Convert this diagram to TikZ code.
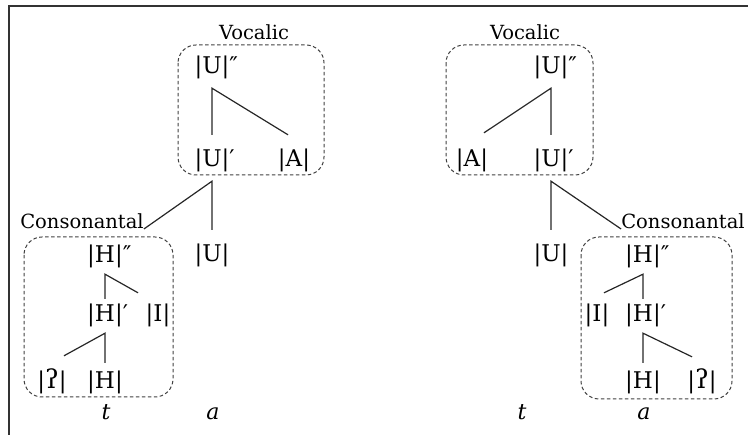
\documentclass[tikz,border=0pt]{standalone}
\usepackage{fontspec}
\setmainfont{DejaVu Serif}
\newcommand{\gst}{{\fontsize{26}{26}\selectfont ʔ}}
\newcommand{\dpr}{\rlap{″}}
\newcommand{\spr}{\rlap{′}}
\begin{document}
\begin{tikzpicture}[x=1pt,y=-1pt,
  el/.style={inner xsep=0pt, text height=18pt, text depth=6pt, font=\fontsize{23}{23}\selectfont},
  vn/.style={el, inner ysep=8pt},
  cn/.style={el, inner ysep=5pt},
  lab/.style={font=\fontsize{19.5}{19.5}\selectfont, inner sep=0pt, anchor=base},
  seg/.style={font=\fontsize{22}{22}\selectfont\itshape, inner sep=0pt, anchor=base},
  br/.style={line width=1.2pt, draw=black!85},
  grp/.style={draw=black!75, line width=1pt, dash pattern=on 3.5pt off 2.5pt, rounded corners=18pt},
  frame/.style={line width=1.8pt, draw=black!80}]
\useasboundingbox (0,0) rectangle (748,435);
\draw[frame] (9,435) -- (9,6) -- (748,6);

% left
\draw[grp] (178,45) rectangle (324,175);
\draw[grp] (24,237) rectangle (173,397);
\node[lab] (voc1) at (254,40) {Vocalic};
\node[vn] (u2a) at (212,68) {|U|\dpr};
\node[vn] (u1a) at (212,161) {|U|\spr};
\node[vn] (aa) at (294,161) {|A|};
\node[vn] (ua) at (212,256) {|U|};
\node[lab] (con1) at (82,229) {Consonantal};
\node[cn] (h2a) at (105,257) {|H|\dpr};
\node[cn] (h1a) at (105,316) {|H|\spr};
\node[cn] (ia) at (158,316) {|I|};
\node[cn] (ga) at (52,383) {|\gst|};
\node[cn] (ha) at (105,383) {|H|};
\node[seg] (ta) at (106,420) {t};
\node[seg] (aa2) at (213,420) {a};
\draw[br] ([shift={(0,-6)}]u1a.north) -- (u2a.south) -- ([shift={(-6,-6)}]aa.north);
\draw[br] ([shift={(0,-6)}]ua.north) -- (u1a.south) -- (con1.base east);
\draw[br] (h1a.north) -- (h2a.south) -- ([shift={(-20,-6)}]ia.north);
\draw[br] ([shift={(12,-10)}]ga.north) -- (h1a.south) -- ([shift={(0,-3)}]ha.north);

% right
\draw[grp] (446,45) rectangle (593,175);
\draw[grp] (581,237) rectangle (732,399);
\node[lab] (voc2) at (525,40) {Vocalic};
\node[vn] (u2b) at (551,68) {|U|\dpr};
\node[vn] (ab) at (472,161) {|A|};
\node[vn] (u1b) at (551,161) {|U|\spr};
\node[vn] (ub) at (551,256) {|U|};
\node[lab] (con2) at (683,229) {Consonantal};
\node[cn] (h2b) at (643,257) {|H|\dpr};
\node[cn] (ib) at (597,316) {|I|};
\node[cn] (h1b) at (643,316) {|H|\spr};
\node[cn] (hb) at (643,383) {|H|};
\node[cn] (gb) at (702,383) {|\gst|};
\node[seg] (tb) at (522,420) {t};
\node[seg] (ab2) at (644,420) {a};
\draw[br] ([shift={(12,-8)}]ab.north) -- (u2b.south) -- ([shift={(0,-6)}]u1b.north);
\draw[br] ([shift={(0,-6)}]ub.north) -- (u1b.south) -- (con2.base west);
\draw[br] ([shift={(7,-6)}]ib.north) -- (h2b.south) -- (h1b.north);
\draw[br] ([shift={(-10,-9)}]gb.north) -- (h1b.south) -- ([shift={(0,-3)}]hb.north);
\end{tikzpicture}
\end{document}
